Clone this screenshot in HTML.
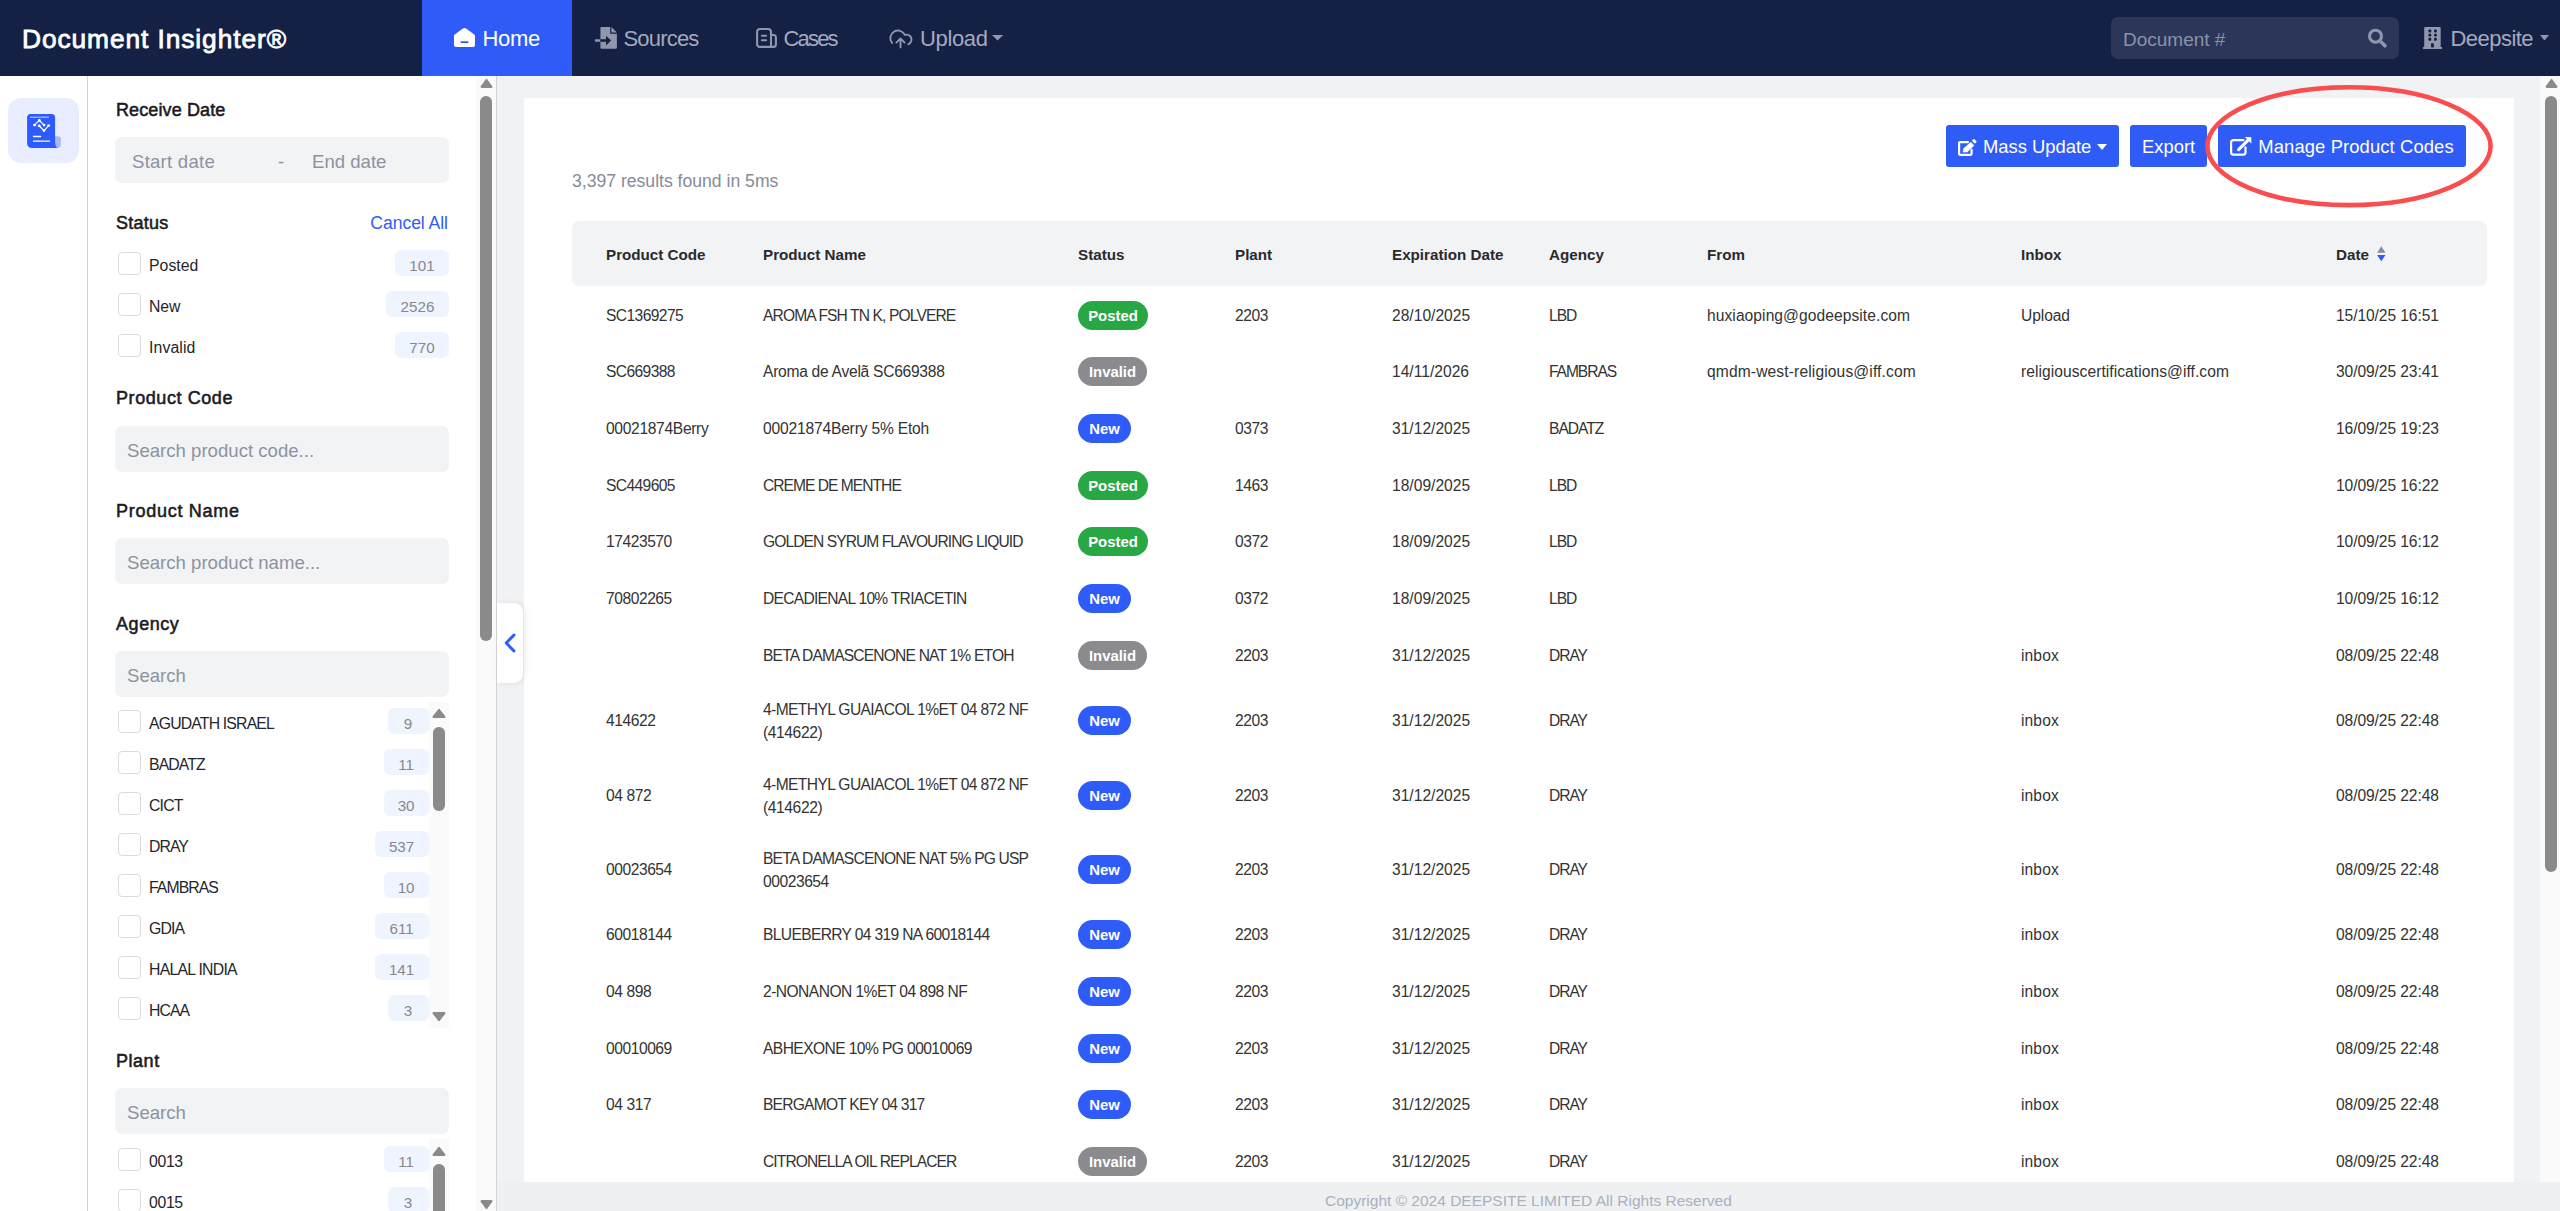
<!DOCTYPE html>
<html><head><meta charset="utf-8"><style>
*{box-sizing:border-box;margin:0;padding:0}
html,body{width:2560px;height:1211px;overflow:hidden;background:#f1f2f4;font-family:"Liberation Sans",sans-serif;color:#333}
.a{position:absolute;white-space:nowrap}
#nav{position:absolute;left:0;top:0;width:2560px;height:76px;background:#142145}
#brand{left:22px;top:24.3px;font-size:26.3px;font-weight:normal;color:#fff;line-height:30px;-webkit-text-stroke:0.8px #fff}
.nt{font-size:22px;color:#a3a9bd;line-height:24px;top:27px}
#home{position:absolute;left:422px;top:0;width:150px;height:76px;background:#2f5cf8}
#rail{position:absolute;left:0;top:76px;width:88px;height:1135px;background:#fff;border-right:1px solid #d4d4d8}
#railicon{position:absolute;left:8px;top:22px;width:71px;height:65px;border-radius:13px;background:#e8edff}
#panel{position:absolute;left:88px;top:76px;width:409px;height:1135px;background:#fff;border-right:1px solid #d4d4d8}
.h{font-weight:normal;font-size:18px;color:#1b1b1f;line-height:20px;-webkit-text-stroke:0.55px #1b1b1f}
.inp{position:absolute;width:334px;height:46px;background:#f2f3f5;border-radius:7px}
.ph{font-size:18.6px;color:#8d92a1;line-height:22px}
.cb{position:absolute;width:23px;height:23px;border:1px solid #d9dbe2;border-radius:4px;background:#fff}
.lbl{font-size:15.8px;color:#25262b;line-height:18px}
.cnt{position:absolute;height:26px;background:#eef5ff;border-radius:6px;color:#88888d;font-size:15.2px;text-align:center;line-height:31px}
#card{position:absolute;left:524px;top:98px;width:1990px;height:1084px;background:#fff}
#footer{position:absolute;left:497px;top:1182px;width:2063px;height:29px;background:#eef0f2}
.td{font-size:15.6px;color:#333;line-height:23px}
.th{font-size:15.2px;font-weight:bold;color:#2a2a2e;line-height:18px}
.bd{position:absolute;height:29px;border-radius:15px;color:#fff;font-weight:bold;font-size:14.9px;line-height:31.5px;text-align:center}
.btn{position:absolute;top:125px;height:42px;background:#2f5cf6;border-radius:3px;color:#fff;font-size:18.6px}
</style></head><body>
<div id="nav">
<div class="a" id="brand" style="letter-spacing:0.925px">Document Insighter®</div>
<div id="home"></div>
<div class="a nt" style="left:482.5px;color:#fff;letter-spacing:-0.297px">Home</div>
<div class="a nt" style="left:623.5px;letter-spacing:-0.816px">Sources</div>
<div class="a nt" style="left:783.5px;letter-spacing:-1.832px">Cases</div>
<div class="a nt" style="left:920px;letter-spacing:-0.37px">Upload</div>
<svg class="a" style="left:454px;top:28px" width="21" height="19" viewBox="0 0 21 19"><path d="M0,8 Q0,7 1,6.2 L9,0.6 Q10.5,-0.4 12,0.6 L20,6.2 Q21,7 21,8 V17 Q21,19 19,19 H2 Q0,19 0,17 Z" fill="#fff"/><rect x="6.5" y="13.2" width="8" height="1.9" rx="0.9" fill="#2f5cf8"/></svg>
<svg class="a" style="left:594px;top:26px" width="24" height="24" viewBox="0 0 24 24"><path d="M6.4,2 Q6.4,1 7.4,1 H16.2 V7.8 H22.9 V21.8 Q22.9,22.8 21.9,22.8 H7.4 Q6.4,22.8 6.4,21.8 Z" fill="#9096ab"/><path d="M17.4,1 L22.9,6.5 H17.4 Z" fill="#9096ab"/><rect x="0.9" y="13.2" width="5.5" height="2.6" rx="0.8" fill="#9096ab"/><rect x="6.4" y="13.2" width="6" height="2.6" fill="#142145"/><path d="M12,9.7 L17.1,14.5 L12,19.5 Z" fill="#142145"/></svg>
<svg class="a" style="left:755px;top:27px" width="23" height="22" viewBox="0 0 23 22" fill="none" stroke="#9096ab" stroke-width="2.1" stroke-linecap="round" stroke-linejoin="round"><path d="M16,19.9 H5 Q2.1,19.9 2.1,17 V5 Q2.1,2 5,2 H13 Q16,2 16,5 V19.9 M16,8 H18.4 Q20.9,8 20.9,10.5 V17.4 Q20.9,19.9 18.4,19.9 H16"/><path d="M6.9,8.75 H11.1 M6.9,13.2 H11.1"/></svg>
<svg class="a" style="left:884px;top:20px" width="30" height="30" viewBox="0 0 30 30" fill="none" stroke="#9096ab" stroke-width="1.9" stroke-linecap="round" stroke-linejoin="round"><path d="M8,22.9 A7.6,7.6 0 1 1 20.8,14.9 A4.7,4.7 0 0 1 24.2,24.3"/><path d="M16.5,27.4 V18.6 M12.4,22.6 L16.5,18.4 L20.6,22.6"/></svg>
<svg class="a" style="left:992.2px;top:35px" width="11.2" height="5.6" viewBox="0 0 11.2 5.6"><path d="M0,0 H11.2 L5.6,5.6 Z" fill="#9096ab"/></svg>
<div class="a" style="left:2111px;top:17px;width:288px;height:42px;border-radius:7px;background:#2c3658"></div>
<div class="a" style="left:2123px;top:28.5px;font-size:19px;color:#8a92a8;line-height:22px">Document #</div>
<div class="a nt" style="left:2450.5px;top:27px;font-size:22px;letter-spacing:-0.541px">Deepsite</div>
<svg class="a" style="left:2366px;top:27px" width="22" height="22" viewBox="0 0 22 22" fill="none" stroke="#9096ab" stroke-linecap="round"><circle cx="9.5" cy="9.2" r="6" stroke-width="3.1"/><path d="M15.4,15.2 L19,18.8" stroke-width="3.6"/></svg>
<svg class="a" style="left:2422px;top:26px" width="21" height="24" viewBox="0 0 21 24"><path d="M2.2,2.2 Q2.2,1 3.4,1 H17.5 Q18.7,1 18.7,2.2 V21 H20 V23 H0.9 V21 H2.2 Z" fill="#9096ab"/><g fill="#142145"><rect x="6.4" y="3.6" width="2.9" height="2.9" rx="1"/><rect x="12" y="3.6" width="2.9" height="2.9" rx="1"/><rect x="6.4" y="7.7" width="2.9" height="2.9" rx="1"/><rect x="12" y="7.7" width="2.9" height="2.9" rx="1"/><rect x="6.4" y="11.8" width="2.9" height="2.9" rx="1"/><rect x="12" y="11.8" width="2.9" height="2.9" rx="1"/><rect x="9" y="17.3" width="2.9" height="4.2" rx="1"/></g></svg>
<svg class="a" style="left:2540.3px;top:34.8px" width="9" height="5.6" viewBox="0 0 9 5.6"><path d="M0,0 H9 L4.5,5.6 Z" fill="#9096ab"/></svg>
</div>
<div id="rail"><div id="railicon"></div></div>
<svg class="a" style="left:22px;top:108px" width="44" height="44" viewBox="0 0 44 44"><rect x="30" y="28.2" width="8.9" height="11.6" rx="3" fill="#aab9f6"/><path d="M5.1,9.5 Q5.1,6 8.6,6 H29.6 Q33.1,6 33.1,9.5 V35 Q33.1,38.5 35.5,40 H10.1 Q5.1,40 5.1,35 Z" fill="#2e5bff"/><rect x="8" y="8.6" width="19" height="1.3" fill="#fff" opacity="0.55"/><g stroke="#fff" stroke-width="1.3" fill="none" stroke-linejoin="round"><path d="M12.5,17.1 L17.3,12.4 L22,17.1"/><path d="M17.1,17.8 L22,22.6 L26.7,17.6"/></g><g fill="#fff"><circle cx="12.5" cy="17.1" r="1.4"/><circle cx="17.3" cy="12.4" r="1.4"/><circle cx="22" cy="17.1" r="1.4"/><circle cx="17.1" cy="17.8" r="1.4"/><circle cx="22" cy="22.6" r="1.4"/><circle cx="26.7" cy="17.6" r="1.4"/></g><g stroke="#fff" stroke-width="1.3" stroke-linecap="round"><path d="M11.5,28.5 H18.6 M11.5,33.2 H27.6"/></g></svg>
<div id="panel">
<div class="a" style="left:388px;top:0;width:20px;height:1135px;background:#fafafa"></div>
</div>
<div class="a h" style="left:116px;top:100px;letter-spacing:0.12px;">Receive Date</div>
<div class="inp" style="left:115px;top:137px;height:46px"></div>
<div class="a ph" style="left:132px;top:150.5px;letter-spacing:0.235px">Start date</div>
<div class="a ph" style="left:278px;top:150.5px">-</div>
<div class="a ph" style="left:312px;top:150.5px">End date</div>
<div class="a h" style="left:116px;top:213px;letter-spacing:0.262px;">Status</div>
<div class="a" style="left:370.3px;top:213px;font-size:17.6px;color:#2f5cf8;line-height:20px;letter-spacing:-0.057px">Cancel All</div>
<div class="cb" style="left:118px;top:252px"></div>
<div class="a lbl" style="left:149px;top:257px"><span style="letter-spacing:0.038px">Posted</span></div>
<div class="cnt" style="left:395px;top:250px;width:54px">101</div>
<div class="cb" style="left:118px;top:293px"></div>
<div class="a lbl" style="left:149px;top:298px"><span style="letter-spacing:-0.13px">New</span></div>
<div class="cnt" style="left:386px;top:291px;width:63px">2526</div>
<div class="cb" style="left:118px;top:334px"></div>
<div class="a lbl" style="left:149px;top:339px"><span style="letter-spacing:0.119px">Invalid</span></div>
<div class="cnt" style="left:395px;top:332px;width:54px">770</div>
<div class="a h" style="left:116px;top:388px;letter-spacing:0.578px;">Product Code</div>
<div class="inp" style="left:115px;top:426px;height:46px"></div>
<div class="a ph" style="left:127px;top:439.5px">Search product code...</div>
<div class="a h" style="left:116px;top:501px;letter-spacing:0.729px;">Product Name</div>
<div class="inp" style="left:115px;top:538px;height:46px"></div>
<div class="a ph" style="left:127px;top:551.5px">Search product name...</div>
<div class="a h" style="left:116px;top:614px;letter-spacing:0.56px;">Agency</div>
<div class="inp" style="left:115px;top:651px;height:46px"></div>
<div class="a ph" style="left:127px;top:664.5px">Search</div>
<div class="a" style="left:429px;top:702px;width:20px;height:326px;background:#fafafa"></div>
<div class="cb" style="left:118px;top:710px"></div>
<div class="a lbl" style="left:149px;top:715px"><span style="letter-spacing:-0.832px">AGUDATH ISRAEL</span></div>
<div class="cnt" style="left:387.6px;top:708px;width:41px">9</div>
<div class="cb" style="left:118px;top:751px"></div>
<div class="a lbl" style="left:149px;top:756px"><span style="letter-spacing:-0.894px">BADATZ</span></div>
<div class="cnt" style="left:383.6px;top:749px;width:45px">11</div>
<div class="cb" style="left:118px;top:792px"></div>
<div class="a lbl" style="left:149px;top:797px"><span style="letter-spacing:-0.793px">CICT</span></div>
<div class="cnt" style="left:383.6px;top:790px;width:45px">30</div>
<div class="cb" style="left:118px;top:833px"></div>
<div class="a lbl" style="left:149px;top:838px"><span style="letter-spacing:-0.945px">DRAY</span></div>
<div class="cnt" style="left:374.6px;top:831px;width:54px">537</div>
<div class="cb" style="left:118px;top:874px"></div>
<div class="a lbl" style="left:149px;top:879px"><span style="letter-spacing:-0.939px">FAMBRAS</span></div>
<div class="cnt" style="left:383.6px;top:872px;width:45px">10</div>
<div class="cb" style="left:118px;top:915px"></div>
<div class="a lbl" style="left:149px;top:920px"><span style="letter-spacing:-0.831px">GDIA</span></div>
<div class="cnt" style="left:374.6px;top:913px;width:54px">611</div>
<div class="cb" style="left:118px;top:956px"></div>
<div class="a lbl" style="left:149px;top:961px"><span style="letter-spacing:-0.737px">HALAL INDIA</span></div>
<div class="cnt" style="left:374.6px;top:954px;width:54px">141</div>
<div class="cb" style="left:118px;top:997px"></div>
<div class="a lbl" style="left:149px;top:1002px"><span style="letter-spacing:-0.945px">HCAA</span></div>
<div class="cnt" style="left:387.6px;top:995px;width:41px">3</div>
<div class="a h" style="left:116px;top:1051px;letter-spacing:0.534px;">Plant</div>
<div class="inp" style="left:115px;top:1088px;height:46px"></div>
<div class="a ph" style="left:127px;top:1101.5px">Search</div>
<div class="a" style="left:429px;top:1139px;width:20px;height:80px;background:#fafafa"></div>
<div class="cb" style="left:118px;top:1148px"></div>
<div class="a lbl" style="left:149px;top:1153px"><span style="letter-spacing:-0.334px">0013</span></div>
<div class="cnt" style="left:383.6px;top:1146px;width:45px">11</div>
<div class="cb" style="left:118px;top:1189px"></div>
<div class="a lbl" style="left:149px;top:1194px"><span style="letter-spacing:-0.334px">0015</span></div>
<div class="cnt" style="left:387.6px;top:1187px;width:41px">3</div>
<div id="card"></div>
<div id="footer"></div>
<div class="a" style="left:1325px;top:1191.5px;font-size:15.5px;color:#a9b0bf;line-height:18px">Copyright © 2024 DEEPSITE LIMITED All Rights Reserved</div>
<div class="a" style="left:2540px;top:76px;width:20px;height:1106px;background:#fafafa"></div>
<svg class="a" style="left:2544.5px;top:77.5px" width="13" height="10" viewBox="0 0 13 10"><path d="M6.5,1 L12,8.5 Q12.5,9.5 11,9.5 H2 Q0.5,9.5 1,8.5 Z" fill="#8a8a8a" stroke="#8a8a8a" stroke-width="1" stroke-linejoin="round"/></svg>
<div class="a" style="left:2545px;top:95.6px;width:12px;height:776.0px;border-radius:6.0px;background:#8a8a8a"></div>
<svg class="a" style="left:479.5px;top:77.5px" width="13" height="10" viewBox="0 0 13 10"><path d="M6.5,1 L12,8.5 Q12.5,9.5 11,9.5 H2 Q0.5,9.5 1,8.5 Z" fill="#8a8a8a" stroke="#8a8a8a" stroke-width="1" stroke-linejoin="round"/></svg>
<div class="a" style="left:480px;top:96px;width:12px;height:544.6px;border-radius:6.0px;background:#8a8a8a"></div>
<svg class="a" style="left:479.5px;top:1199.5px" width="13" height="10" viewBox="0 0 13 10"><path d="M6.5,9 L12,1.5 Q12.5,0.5 11,0.5 H2 Q0.5,0.5 1,1.5 Z" fill="#8a8a8a" stroke="#8a8a8a" stroke-width="1" stroke-linejoin="round"/></svg>
<svg class="a" style="left:432px;top:708.4px" width="14" height="10" viewBox="0 0 14 10"><path d="M7.0,1 L13,8.5 Q13.5,9.5 12,9.5 H2 Q0.5,9.5 1,8.5 Z" fill="#8a8a8a" stroke="#8a8a8a" stroke-width="1" stroke-linejoin="round"/></svg>
<div class="a" style="left:433.4px;top:727.2px;width:11.3px;height:84.19999999999993px;border-radius:5.65px;background:#8a8a8a"></div>
<svg class="a" style="left:432px;top:1012.3px" width="14" height="10" viewBox="0 0 14 10"><path d="M7.0,9 L13,1.5 Q13.5,0.5 12,0.5 H2 Q0.5,0.5 1,1.5 Z" fill="#8a8a8a" stroke="#8a8a8a" stroke-width="1" stroke-linejoin="round"/></svg>
<svg class="a" style="left:432px;top:1145.8px" width="14" height="10" viewBox="0 0 14 10"><path d="M7.0,1 L13,8.5 Q13.5,9.5 12,9.5 H2 Q0.5,9.5 1,8.5 Z" fill="#8a8a8a" stroke="#8a8a8a" stroke-width="1" stroke-linejoin="round"/></svg>
<div class="a" style="left:433.4px;top:1164px;width:11.3px;height:76px;border-radius:5.65px;background:#8a8a8a"></div>
<div class="a" style="left:572px;top:171px;font-size:17.6px;color:#868b98;line-height:20px">3,397 results found in 5ms</div>
<div class="btn" style="left:1946px;width:173px"></div>
<div class="a" style="left:1983px;top:136px;font-size:18.4px;color:#fff;line-height:22px">Mass Update</div>
<div class="btn" style="left:2130px;width:77px"></div>
<div class="a" style="left:2142px;top:136px;font-size:18.4px;color:#fff;line-height:22px">Export</div>
<div class="btn" style="left:2218px;width:248px"></div>
<div class="a" style="left:2258.3px;top:136px;font-size:18.4px;color:#fff;line-height:22px;letter-spacing:0.109px">Manage Product Codes</div>
<svg class="a" style="left:1957px;top:138px" width="21" height="19" viewBox="0 0 21 19"><path d="M11,4.1 H3.1 Q2.1,4.1 2.1,5.1 V15.8 Q2.1,16.8 3.1,16.8 H13.6 Q14.6,16.8 14.6,15.8 V11.9" fill="none" stroke="#fff" stroke-width="2.2" stroke-linecap="round"/><path d="M6,14.1 L6.7,10.5 L13.9,4.2 L16.9,7.6 L10.4,13.9 Z" fill="#fff" stroke="#fff" stroke-width="0.6" stroke-linejoin="round"/><path d="M14.9,2.7 L16.3,1.3 Q16.9,0.7 17.5,1.3 L19.3,3.1 Q19.9,3.7 19.3,4.3 L17.9,5.7 Z" fill="#fff"/></svg>
<svg class="a" style="left:2097px;top:143.5px" width="10" height="6" viewBox="0 0 10 6"><path d="M0,0 H10 L5,6 Z" fill="#fff"/></svg>
<svg class="a" style="left:2229px;top:136px" width="24" height="21" viewBox="0 0 24 21"><path d="M14.4,4.2 H4.5 Q2.1,4.2 2.1,6.6 V16.3 Q2.1,18.7 4.5,18.7 H14.1 Q16.5,18.7 16.5,16.3 V11.4" fill="none" stroke="#fff" stroke-width="2.2" stroke-linecap="round"/><path d="M9.6,13.7 L19.6,3.7" stroke="#fff" stroke-width="3.1" stroke-linecap="round"/><path d="M15.8,1.1 H21.5 Q22.3,1.1 22.3,1.9 V7.6 Z" fill="#fff"/></svg>
<svg class="a" style="left:2200px;top:80px" width="300" height="135" viewBox="2200 80 300 135"><ellipse cx="2349" cy="146.2" rx="141.6" ry="58.9" fill="none" stroke="#fa4d50" stroke-width="4.6"/></svg>
<div class="a" style="left:572px;top:221px;width:1915px;height:65px;background:#f2f3f5;border-radius:7px"></div>
<div class="a th" style="left:606px;top:246px">Product Code</div>
<div class="a th" style="left:763px;top:246px">Product Name</div>
<div class="a th" style="left:1078px;top:246px">Status</div>
<div class="a th" style="left:1235px;top:246px">Plant</div>
<div class="a th" style="left:1392px;top:246px">Expiration Date</div>
<div class="a th" style="left:1549px;top:246px">Agency</div>
<div class="a th" style="left:1707px;top:246px">From</div>
<div class="a th" style="left:2021px;top:246px">Inbox</div>
<div class="a th" style="left:2336px;top:246px">Date</div>
<svg class="a" style="left:2377px;top:246px" width="9" height="16" viewBox="0 0 9 16"><path d="M4.3,0.2 L8.5,6.8 H0.1 Z" fill="#878c99"/><path d="M0.1,9 H8.5 L4.3,15.2 Z" fill="#2f5cf8"/></svg>
<div class="a" style="left:524px;top:286px;width:1990px;height:896px;overflow:hidden">
<div class="a td" style="left:82px;top:17.5px"><span style="letter-spacing:-0.584px">SC1369275</span></div>
<div class="a td" style="left:239px;top:17.5px"><span style="letter-spacing:-0.878px">AROMA FSH TN K, POLVERE</span></div>
<div class="bd" style="left:554px;top:14.5px;width:70px;background:#28a745">Posted</div>
<div class="a td" style="left:711px;top:17.5px"><span style="letter-spacing:-0.445px">2203</span></div>
<div class="a td" style="left:868px;top:17.5px"><span style="letter-spacing:0.011px">28/10/2025</span></div>
<div class="a td" style="left:1025px;top:17.5px"><span style="letter-spacing:-0.999px">LBD</span></div>
<div class="a td" style="left:1183px;top:17.5px"><span style="letter-spacing:0.068px">huxiaoping@godeepsite.com</span></div>
<div class="a td" style="left:1497px;top:17.5px"><span style="letter-spacing:-0.089px">Upload</span></div>
<div class="a td" style="left:1812px;top:17.5px"><span style="letter-spacing:-0.088px">15/10/25 16:51</span></div>
<div class="a td" style="left:82px;top:73.5px"><span style="letter-spacing:-0.601px">SC669388</span></div>
<div class="a td" style="left:239px;top:73.5px"><span style="letter-spacing:-0.274px">Aroma de Avelã SC669388</span></div>
<div class="bd" style="left:554px;top:70.5px;width:69px;background:#8a8a8f">Invalid</div>
<div class="a td" style="left:868px;top:73.5px"><span style="letter-spacing:0.011px">14/11/2026</span></div>
<div class="a td" style="left:1025px;top:73.5px"><span style="letter-spacing:-1.064px">FAMBRAS</span></div>
<div class="a td" style="left:1183px;top:73.5px"><span style="letter-spacing:0.131px">qmdm-west-religious@iff.com</span></div>
<div class="a td" style="left:1497px;top:73.5px"><span style="letter-spacing:0.058px">religiouscertifications@iff.com</span></div>
<div class="a td" style="left:1812px;top:73.5px"><span style="letter-spacing:-0.088px">30/09/25 23:41</span></div>
<div class="a td" style="left:82px;top:130.5px"><span style="letter-spacing:-0.322px">00021874Berry</span></div>
<div class="a td" style="left:239px;top:130.5px"><span style="letter-spacing:-0.183px">00021874Berry 5% Etoh</span></div>
<div class="bd" style="left:554px;top:127.5px;width:53px;background:#2f5cf8">New</div>
<div class="a td" style="left:711px;top:130.5px"><span style="letter-spacing:-0.445px">0373</span></div>
<div class="a td" style="left:868px;top:130.5px"><span style="letter-spacing:0.011px">31/12/2025</span></div>
<div class="a td" style="left:1025px;top:130.5px"><span style="letter-spacing:-1.013px">BADATZ</span></div>
<div class="a td" style="left:1812px;top:130.5px"><span style="letter-spacing:-0.088px">16/09/25 19:23</span></div>
<div class="a td" style="left:82px;top:187.5px"><span style="letter-spacing:-0.601px">SC449605</span></div>
<div class="a td" style="left:239px;top:187.5px"><span style="letter-spacing:-0.977px">CREME DE MENTHE</span></div>
<div class="bd" style="left:554px;top:184.5px;width:70px;background:#28a745">Posted</div>
<div class="a td" style="left:711px;top:187.5px"><span style="letter-spacing:-0.445px">1463</span></div>
<div class="a td" style="left:868px;top:187.5px"><span style="letter-spacing:0.011px">18/09/2025</span></div>
<div class="a td" style="left:1025px;top:187.5px"><span style="letter-spacing:-0.999px">LBD</span></div>
<div class="a td" style="left:1812px;top:187.5px"><span style="letter-spacing:-0.088px">10/09/25 16:22</span></div>
<div class="a td" style="left:82px;top:243.5px"><span style="letter-spacing:-0.445px">17423570</span></div>
<div class="a td" style="left:239px;top:243.5px"><span style="letter-spacing:-0.929px">GOLDEN SYRUM FLAVOURING LIQUID</span></div>
<div class="bd" style="left:554px;top:240.5px;width:70px;background:#28a745">Posted</div>
<div class="a td" style="left:711px;top:243.5px"><span style="letter-spacing:-0.445px">0372</span></div>
<div class="a td" style="left:868px;top:243.5px"><span style="letter-spacing:0.011px">18/09/2025</span></div>
<div class="a td" style="left:1025px;top:243.5px"><span style="letter-spacing:-0.999px">LBD</span></div>
<div class="a td" style="left:1812px;top:243.5px"><span style="letter-spacing:-0.088px">10/09/25 16:12</span></div>
<div class="a td" style="left:82px;top:300.5px"><span style="letter-spacing:-0.445px">70802265</span></div>
<div class="a td" style="left:239px;top:300.5px"><span style="letter-spacing:-0.724px">DECADIENAL 10% TRIACETIN</span></div>
<div class="bd" style="left:554px;top:297.5px;width:53px;background:#2f5cf8">New</div>
<div class="a td" style="left:711px;top:300.5px"><span style="letter-spacing:-0.445px">0372</span></div>
<div class="a td" style="left:868px;top:300.5px"><span style="letter-spacing:0.011px">18/09/2025</span></div>
<div class="a td" style="left:1025px;top:300.5px"><span style="letter-spacing:-0.999px">LBD</span></div>
<div class="a td" style="left:1812px;top:300.5px"><span style="letter-spacing:-0.088px">10/09/25 16:12</span></div>
<div class="a td" style="left:239px;top:357.5px"><span style="letter-spacing:-0.816px">BETA DAMASCENONE NAT 1% ETOH</span></div>
<div class="bd" style="left:554px;top:354.5px;width:69px;background:#8a8a8f">Invalid</div>
<div class="a td" style="left:711px;top:357.5px"><span style="letter-spacing:-0.445px">2203</span></div>
<div class="a td" style="left:868px;top:357.5px"><span style="letter-spacing:0.011px">31/12/2025</span></div>
<div class="a td" style="left:1025px;top:357.5px"><span style="letter-spacing:-1.07px">DRAY</span></div>
<div class="a td" style="left:1497px;top:357.5px"><span style="letter-spacing:0.113px">inbox</span></div>
<div class="a td" style="left:1812px;top:357.5px"><span style="letter-spacing:-0.088px">08/09/25 22:48</span></div>
<div class="a td" style="left:82px;top:422.5px"><span style="letter-spacing:-0.445px">414622</span></div>
<div class="a td" style="left:239px;top:411.5px"><span style="letter-spacing:-0.611px">4-METHYL GUAIACOL 1%ET 04 872 NF</span><br><span style="letter-spacing:-0.4px">(414622)</span></div>
<div class="bd" style="left:554px;top:419.5px;width:53px;background:#2f5cf8">New</div>
<div class="a td" style="left:711px;top:422.5px"><span style="letter-spacing:-0.445px">2203</span></div>
<div class="a td" style="left:868px;top:422.5px"><span style="letter-spacing:0.011px">31/12/2025</span></div>
<div class="a td" style="left:1025px;top:422.5px"><span style="letter-spacing:-1.07px">DRAY</span></div>
<div class="a td" style="left:1497px;top:422.5px"><span style="letter-spacing:0.113px">inbox</span></div>
<div class="a td" style="left:1812px;top:422.5px"><span style="letter-spacing:-0.088px">08/09/25 22:48</span></div>
<div class="a td" style="left:82px;top:497.5px"><span style="letter-spacing:-0.408px">04 872</span></div>
<div class="a td" style="left:239px;top:486.5px"><span style="letter-spacing:-0.611px">4-METHYL GUAIACOL 1%ET 04 872 NF</span><br><span style="letter-spacing:-0.4px">(414622)</span></div>
<div class="bd" style="left:554px;top:494.5px;width:53px;background:#2f5cf8">New</div>
<div class="a td" style="left:711px;top:497.5px"><span style="letter-spacing:-0.445px">2203</span></div>
<div class="a td" style="left:868px;top:497.5px"><span style="letter-spacing:0.011px">31/12/2025</span></div>
<div class="a td" style="left:1025px;top:497.5px"><span style="letter-spacing:-1.07px">DRAY</span></div>
<div class="a td" style="left:1497px;top:497.5px"><span style="letter-spacing:0.113px">inbox</span></div>
<div class="a td" style="left:1812px;top:497.5px"><span style="letter-spacing:-0.088px">08/09/25 22:48</span></div>
<div class="a td" style="left:82px;top:571.5px"><span style="letter-spacing:-0.445px">00023654</span></div>
<div class="a td" style="left:239px;top:560.5px"><span style="letter-spacing:-0.807px">BETA DAMASCENONE NAT 5% PG USP</span><br><span style="letter-spacing:-0.445px">00023654</span></div>
<div class="bd" style="left:554px;top:568.5px;width:53px;background:#2f5cf8">New</div>
<div class="a td" style="left:711px;top:571.5px"><span style="letter-spacing:-0.445px">2203</span></div>
<div class="a td" style="left:868px;top:571.5px"><span style="letter-spacing:0.011px">31/12/2025</span></div>
<div class="a td" style="left:1025px;top:571.5px"><span style="letter-spacing:-1.07px">DRAY</span></div>
<div class="a td" style="left:1497px;top:571.5px"><span style="letter-spacing:0.113px">inbox</span></div>
<div class="a td" style="left:1812px;top:571.5px"><span style="letter-spacing:-0.088px">08/09/25 22:48</span></div>
<div class="a td" style="left:82px;top:636.5px"><span style="letter-spacing:-0.445px">60018144</span></div>
<div class="a td" style="left:239px;top:636.5px"><span style="letter-spacing:-0.648px">BLUEBERRY 04 319 NA 60018144</span></div>
<div class="bd" style="left:554px;top:633.5px;width:53px;background:#2f5cf8">New</div>
<div class="a td" style="left:711px;top:636.5px"><span style="letter-spacing:-0.445px">2203</span></div>
<div class="a td" style="left:868px;top:636.5px"><span style="letter-spacing:0.011px">31/12/2025</span></div>
<div class="a td" style="left:1025px;top:636.5px"><span style="letter-spacing:-1.07px">DRAY</span></div>
<div class="a td" style="left:1497px;top:636.5px"><span style="letter-spacing:0.113px">inbox</span></div>
<div class="a td" style="left:1812px;top:636.5px"><span style="letter-spacing:-0.088px">08/09/25 22:48</span></div>
<div class="a td" style="left:82px;top:693.5px"><span style="letter-spacing:-0.408px">04 898</span></div>
<div class="a td" style="left:239px;top:693.5px"><span style="letter-spacing:-0.542px">2-NONANON 1%ET 04 898 NF</span></div>
<div class="bd" style="left:554px;top:690.5px;width:53px;background:#2f5cf8">New</div>
<div class="a td" style="left:711px;top:693.5px"><span style="letter-spacing:-0.445px">2203</span></div>
<div class="a td" style="left:868px;top:693.5px"><span style="letter-spacing:0.011px">31/12/2025</span></div>
<div class="a td" style="left:1025px;top:693.5px"><span style="letter-spacing:-1.07px">DRAY</span></div>
<div class="a td" style="left:1497px;top:693.5px"><span style="letter-spacing:0.113px">inbox</span></div>
<div class="a td" style="left:1812px;top:693.5px"><span style="letter-spacing:-0.088px">08/09/25 22:48</span></div>
<div class="a td" style="left:82px;top:750.5px"><span style="letter-spacing:-0.445px">00010069</span></div>
<div class="a td" style="left:239px;top:750.5px"><span style="letter-spacing:-0.582px">ABHEXONE 10% PG 00010069</span></div>
<div class="bd" style="left:554px;top:747.5px;width:53px;background:#2f5cf8">New</div>
<div class="a td" style="left:711px;top:750.5px"><span style="letter-spacing:-0.445px">2203</span></div>
<div class="a td" style="left:868px;top:750.5px"><span style="letter-spacing:0.011px">31/12/2025</span></div>
<div class="a td" style="left:1025px;top:750.5px"><span style="letter-spacing:-1.07px">DRAY</span></div>
<div class="a td" style="left:1497px;top:750.5px"><span style="letter-spacing:0.113px">inbox</span></div>
<div class="a td" style="left:1812px;top:750.5px"><span style="letter-spacing:-0.088px">08/09/25 22:48</span></div>
<div class="a td" style="left:82px;top:806.5px"><span style="letter-spacing:-0.408px">04 317</span></div>
<div class="a td" style="left:239px;top:806.5px"><span style="letter-spacing:-0.778px">BERGAMOT KEY 04 317</span></div>
<div class="bd" style="left:554px;top:803.5px;width:53px;background:#2f5cf8">New</div>
<div class="a td" style="left:711px;top:806.5px"><span style="letter-spacing:-0.445px">2203</span></div>
<div class="a td" style="left:868px;top:806.5px"><span style="letter-spacing:0.011px">31/12/2025</span></div>
<div class="a td" style="left:1025px;top:806.5px"><span style="letter-spacing:-1.07px">DRAY</span></div>
<div class="a td" style="left:1497px;top:806.5px"><span style="letter-spacing:0.113px">inbox</span></div>
<div class="a td" style="left:1812px;top:806.5px"><span style="letter-spacing:-0.088px">08/09/25 22:48</span></div>
<div class="a td" style="left:239px;top:863.5px"><span style="letter-spacing:-0.909px">CITRONELLA OIL REPLACER</span></div>
<div class="bd" style="left:554px;top:860.5px;width:69px;background:#8a8a8f">Invalid</div>
<div class="a td" style="left:711px;top:863.5px"><span style="letter-spacing:-0.445px">2203</span></div>
<div class="a td" style="left:868px;top:863.5px"><span style="letter-spacing:0.011px">31/12/2025</span></div>
<div class="a td" style="left:1025px;top:863.5px"><span style="letter-spacing:-1.07px">DRAY</span></div>
<div class="a td" style="left:1497px;top:863.5px"><span style="letter-spacing:0.113px">inbox</span></div>
<div class="a td" style="left:1812px;top:863.5px"><span style="letter-spacing:-0.088px">08/09/25 22:48</span></div>
</div>
<div class="a" style="left:497px;top:603px;width:26px;height:80px;background:#fff;border-radius:0 9px 9px 0;box-shadow:2px 0 6px rgba(0,0,0,0.08)"></div>
<svg class="a" style="left:500px;top:630px" width="20" height="26" viewBox="0 0 20 26"><path d="M14,5 L6.2,13 L14,21" fill="none" stroke="#2f5cf8" stroke-width="3" stroke-linecap="round" stroke-linejoin="round"/></svg>
</body></html>
